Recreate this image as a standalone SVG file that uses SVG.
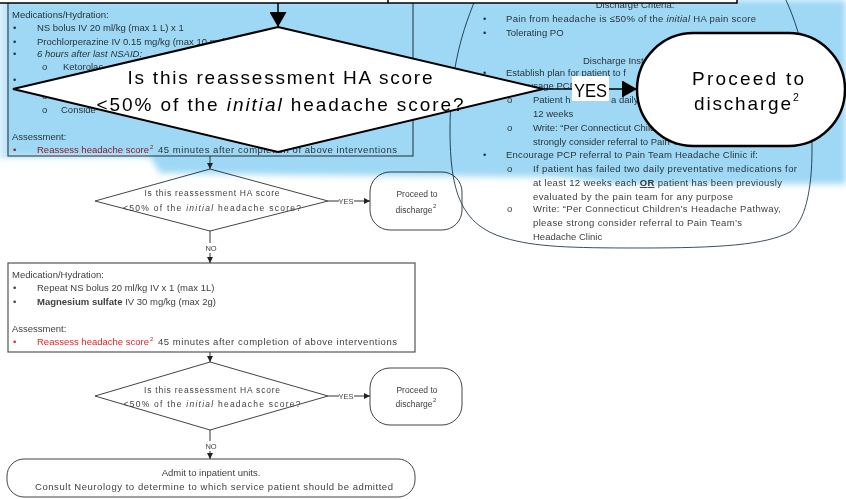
<svg xmlns="http://www.w3.org/2000/svg" width="846" height="499" viewBox="0 0 846 499">
<defs>
  <filter id="soft" x="-5%" y="-20%" width="110%" height="140%">
    <feGaussianBlur stdDeviation="3"/>
  </filter>
  <marker id="arrS" viewBox="0 0 6 6" refX="6" refY="3" markerWidth="6" markerHeight="6" markerUnits="userSpaceOnUse" orient="auto">
    <path d="M0,0 L6,3 L0,6 Z" fill="#222"/>
  </marker>
  <marker id="arrB" viewBox="0 0 15 17" refX="15" refY="8.5" markerWidth="15" markerHeight="17" markerUnits="userSpaceOnUse" orient="auto">
    <path d="M0,0 L15,8.5 L0,17 Z" fill="#000"/>
  </marker>
</defs>
<style>
  .t { font-family: "Liberation Sans", Arial, sans-serif; font-size: 9.5px; fill: #404040; }
  .s { font-family: "Liberation Sans", Arial, sans-serif; font-size: 8.5px; fill: #404040; }
  .lbl { font-family: "Liberation Sans", Arial, sans-serif; font-size: 7.5px; fill: #404040; }
  .sup { font-family: "Liberation Sans", Arial, sans-serif; font-size: 6px; }
  .red { fill: #e3222b; }
  .box { fill: #fff; stroke: #555; stroke-width: 1.2; }
  .thin { fill: #fff; stroke: #444; stroke-width: 1; }
  .line { stroke: #333; stroke-width: 1; fill: none; }
  .big { font-family: "Liberation Sans", Arial, sans-serif; font-size: 19px; fill: #000; }
  .bigsup { font-family: "Liberation Sans", Arial, sans-serif; font-size: 10.5px; fill: #000; }
  .bold { stroke: #000; stroke-width: 2; fill: #fff; }
</style>

<rect width="846" height="499" fill="#fff"/>

<!-- first treatment box -->
<g id="meds-box-1">
  <rect x="8" y="1" width="405" height="155" class="box"/>
  <text class="t" x="12" y="18">Medications/Hydration:</text>
  <text class="t" x="13" y="31">•</text><text class="t" x="37" y="31">NS bolus IV 20 ml/kg (max 1 L) x 1</text>
  <text class="t" x="13" y="45">•</text><text class="t" x="37" y="45">Prochlorperazine IV 0.15 mg/kg (max 10 mg)</text>
  <text class="t" x="13" y="57">•</text><text class="t" x="37" y="57" font-style="italic">6 hours after last NSAID:</text>
  <text class="t" x="42" y="70">o</text><text class="t" x="63" y="70">Ketorolac</text>
  <text class="t" x="13" y="83">•</text>
  <text class="t" x="42" y="99">o</text>
  <text class="t" x="42" y="113">o</text><text class="t" x="61" y="113">Conside</text>
  <text class="t" x="12" y="140">Assessment:</text>
  <text class="t red" x="13" y="153">•</text>
  <text class="t red" x="37" y="153">Reassess headache score</text>
  <text class="sup red" x="150" y="149">2</text>
  <text class="t" x="158" y="153" textLength="239" lengthAdjust="spacing">45 minutes after completion of above interventions</text>
</g>

<!-- first small decision -->
<g id="decision-1">
  <polygon points="210,169 328,201 210,231 95,201" class="thin"/>
  <text class="s" x="212" y="196" text-anchor="middle" textLength="135" lengthAdjust="spacing">Is this reassessment HA score</text>
  <text class="s" x="212" y="211" text-anchor="middle" textLength="178" lengthAdjust="spacing">&lt;50% of the <tspan font-style="italic">initial</tspan> headache score?</text>
</g>

<g id="discharge-1">
  <rect x="370" y="172" width="92" height="58" rx="20" class="thin"/>
  <text class="s" x="417" y="197" text-anchor="middle">Proceed to</text>
  <text class="s" x="414" y="213" text-anchor="middle">discharge</text>
  <text class="sup" x="433" y="208" fill="#404040">2</text>
</g>

<!-- second treatment box -->
<g id="meds-box-2">
  <rect x="8" y="263" width="407" height="89" class="box"/>
  <text class="t" x="12" y="278">Medication/Hydration:</text>
  <text class="t" x="13" y="291">•</text><text class="t" x="37" y="291">Repeat NS bolus 20 ml/kg IV x 1 (max 1L)</text>
  <text class="t" x="13" y="305">•</text><text class="t" x="37" y="305"><tspan font-weight="bold">Magnesium sulfate</tspan> IV 30 mg/kg (max 2g)</text>
  <text class="t" x="12" y="332">Assessment:</text>
  <text class="t red" x="13" y="345">•</text>
  <text class="t red" x="37" y="345">Reassess headache score</text>
  <text class="sup red" x="150" y="341">2</text>
  <text class="t" x="158" y="345" textLength="239" lengthAdjust="spacing">45 minutes after completion of above interventions</text>
</g>

<!-- second small decision -->
<g id="decision-2">
  <polygon points="210,362 328,396 210,430 95,396" class="thin"/>
  <text class="s" x="212" y="393" text-anchor="middle" textLength="136" lengthAdjust="spacing">Is this reassessment HA score</text>
  <text class="s" x="212" y="407" text-anchor="middle" textLength="177" lengthAdjust="spacing">&lt;50% of the <tspan font-style="italic">initial</tspan> headache score?</text>
</g>

<g id="discharge-2">
  <rect x="370" y="368" width="92" height="57" rx="20" class="thin"/>
  <text class="s" x="417" y="393" text-anchor="middle">Proceed to</text>
  <text class="s" x="414" y="407" text-anchor="middle">discharge</text>
  <text class="sup" x="433" y="402" fill="#404040">2</text>
</g>

<!-- admission -->
<g id="admit">
  <rect x="7" y="459" width="408" height="38" rx="17" class="thin"/>
  <text class="t" x="211" y="476" text-anchor="middle">Admit to inpatient units.</text>
  <text class="t" x="214" y="490" text-anchor="middle" textLength="358" lengthAdjust="spacing">Consult Neurology to determine to which service patient should be admitted</text>
</g>

<!-- discharge criteria and instructions -->
<g id="discharge-criteria">
  <path d="M476,-2 C458,40 450,80 450,130 C450,190 460,225 505,238 C535,247 570,248 640,248 C720,248 765,245 790,232 C805,222 812,190 812,150 C812,90 805,40 785,-2 Z" fill="none" stroke="#3d4f5c" stroke-width="1"/>
  <text class="t" x="635" y="8" text-anchor="middle">Discharge Criteria:</text>
  <text class="t" x="483" y="22">•</text><text class="t" x="506" y="22" textLength="250" lengthAdjust="spacing">Pain from headache is ≤50% of the <tspan font-style="italic">initial</tspan> HA pain score</text>
  <text class="t" x="483" y="36">•</text><text class="t" x="506" y="36">Tolerating PO</text>
  <text class="t" x="583" y="64">Discharge Instructions:</text>
  <text class="t" x="483" y="76">•</text><text class="t" x="506" y="76">Establish plan for patient to f</text>
  <text class="t" x="528" y="89">usage PCP</text>
  <text class="t" x="507" y="103">o</text><text class="t" x="533" y="103">Patient h</text><text class="t" x="611" y="103">a daily</text>
  <text class="t" x="533" y="117">12 weeks</text>
  <text class="t" x="507" y="131">o</text><text class="t" x="533" y="131">Write: “Per Connecticut Children’s Headache Pathway,</text>
  <text class="t" x="533" y="145">strongly consider referral to Pain Team Headache Clinic”</text>
  <text class="t" x="483" y="158">•</text><text class="t" x="506" y="158" textLength="252" lengthAdjust="spacing">Encourage PCP referral to Pain Team Headache Clinic if:</text>
  <text class="t" x="507" y="172">o</text><text class="t" x="533" y="172" textLength="264" lengthAdjust="spacing">If patient has failed two daily preventative medications for</text>
  <text class="t" x="533" y="186" textLength="249" lengthAdjust="spacing">at least 12 weeks each <tspan text-decoration="underline" font-weight="bold">OR</tspan> patient has been previously</text>
  <text class="t" x="533" y="200" textLength="200" lengthAdjust="spacing">evaluated by the pain team for any purpose</text>
  <text class="t" x="507" y="212">o</text><text class="t" x="533" y="212" textLength="248" lengthAdjust="spacing">Write: “Per Connecticut Children’s Headache Pathway,</text>
  <text class="t" x="533" y="226" textLength="209" lengthAdjust="spacing">please strong consider referral to Pain Team’s</text>
  <text class="t" x="533" y="240">Headache Clinic</text>
</g>

<!-- blue highlight band laid over the upper part -->
<g id="highlight" style="mix-blend-mode:multiply">
  <path d="M0,0 H846 V184 H620 L560,177 L440,176 L300,175 L160,173 L150,157 L0,157 Z" fill="#9fd8f4" filter="url(#soft)"/>
</g>
<rect x="0" y="3" width="7" height="152" fill="#fff" opacity="0.35"/>

<!-- connectors -->
<g id="connectors">
  <line x1="210" y1="156" x2="210" y2="169" class="line" marker-end="url(#arrS)"/>
  <line x1="328" y1="201" x2="339" y2="201" class="line"/>
  <text class="lbl" x="346" y="204" text-anchor="middle">YES</text>
  <line x1="354" y1="201" x2="370" y2="201" class="line" marker-end="url(#arrS)"/>
  <line x1="210" y1="231" x2="210" y2="243" class="line"/>
  <text class="lbl" x="211" y="251" text-anchor="middle">NO</text>
  <line x1="210" y1="253" x2="210" y2="263" class="line" marker-end="url(#arrS)"/>
  <line x1="210" y1="352" x2="210" y2="362" class="line" marker-end="url(#arrS)"/>
  <line x1="328" y1="396" x2="339" y2="396" class="line"/>
  <text class="lbl" x="346" y="399" text-anchor="middle">YES</text>
  <line x1="354" y1="396" x2="370" y2="396" class="line" marker-end="url(#arrS)"/>
  <line x1="210" y1="430" x2="210" y2="441" class="line"/>
  <text class="lbl" x="211" y="449" text-anchor="middle">NO</text>
  <line x1="210" y1="451" x2="210" y2="459" class="line" marker-end="url(#arrS)"/>

  <line x1="278" y1="3" x2="278" y2="27" stroke="#000" stroke-width="1.5" marker-end="url(#arrB)"/>
  <line x1="543" y1="89" x2="637" y2="89" stroke="#000" stroke-width="1.5" marker-end="url(#arrB)"/>
  <rect x="572" y="76" width="37" height="25" fill="#fff"/>
  <text class="big" x="590.5" y="97" text-anchor="middle" textLength="33" lengthAdjust="spacingAndGlyphs">YES</text>
</g>

<!-- header box at the top edge -->
<g id="header">
  <rect x="-2" y="-30" width="739" height="33" fill="#fff" stroke="#000" stroke-width="1.5"/>
  <line x1="388" y1="-1" x2="388" y2="3" stroke="#000" stroke-width="1.5"/>
</g>

<!-- main decision -->
<g id="decision-main">
  <polygon points="278,27 543,89 278,152 13,89" class="bold"/>
  <text class="big" x="280" y="84" text-anchor="middle" textLength="305" lengthAdjust="spacing">Is this reassessment HA score</text>
  <text class="big" x="280" y="111" text-anchor="middle" textLength="367" lengthAdjust="spacing">&lt;50% of the <tspan font-style="italic">initial</tspan> headache score?</text>
</g>

<g id="discharge-main">
  <rect x="637" y="33" width="208" height="113" rx="56.5" fill="#fff" stroke="#000" stroke-width="2.5"/>
  <text class="big" x="748" y="85" text-anchor="middle" textLength="112" lengthAdjust="spacing">Proceed to</text>
  <text class="big" x="694" y="110" textLength="97" lengthAdjust="spacing">discharge</text>
  <text class="bigsup" x="793" y="101">2</text>
</g>
</svg>
